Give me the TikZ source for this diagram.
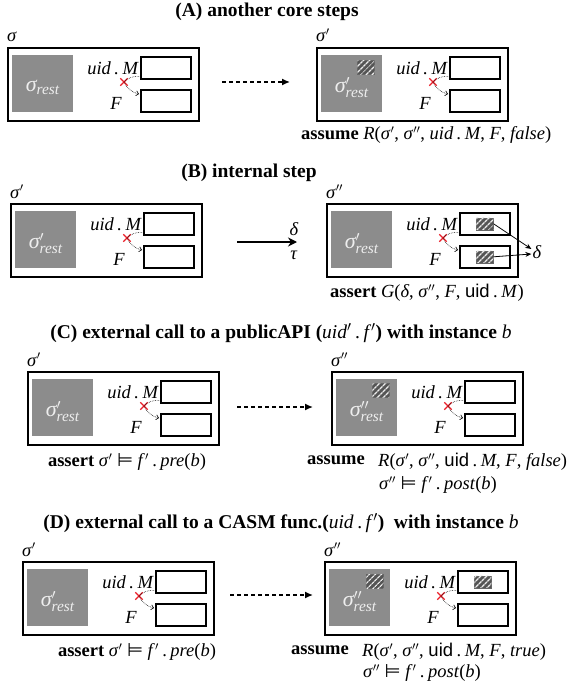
\documentclass[tikz,border=0pt]{standalone}
\usepackage{amsmath}
\usepackage{fontspec}
\setmainfont{Liberation Serif}
\setsansfont{Liberation Sans}
\newfontfamily\symfont{DejaVu Sans}
\usetikzlibrary{calc,arrows.meta,patterns.meta,shapes.misc}
\definecolor{graybg}{RGB}{140,140,140}
\definecolor{hatchbg}{RGB}{85,85,85}
\definecolor{restxt}{RGB}{238,238,238}
\definecolor{crossred}{RGB}{235,30,40}
\newcommand\sg{\textit{σ}}
\newcommand\dotsep{\kern3.5pt.\kern3.5pt}
\newcommand\uidM{\textit{uid\dotsep M}}
\newcommand\suidM{\textsf{uid}\dotsep\textit{M}}
\newcommand\mymodels{{\symfont ⊨}}
\tikzset{
  outerbox/.style={draw, line width=1.6pt, anchor=north west, minimum width=191pt, minimum height=73pt, inner sep=0pt},
  graybox/.style={fill=graybg, anchor=north west, minimum width=61pt, minimum height=57pt, inner sep=0pt},
  smallbox/.style={draw, line width=1.6pt, fill=white, anchor=north west, minimum width=50pt, minimum height=22pt, inner sep=0pt},
  lbl/.style={font=\fontsize{18.5}{20}\selectfont, inner sep=0pt},
  ttl/.style={font=\fontsize{19.5}{21}\selectfont\bfseries, inner sep=0pt},
  resttxt/.style={font=\fontsize{22}{24}\selectfont, text=restxt, inner sep=0pt},
  crossmk/.style={cross out, draw=crossred, line width=1.3pt, minimum size=6pt, inner sep=0pt},
  dotarr/.style={densely dotted, line width=0.6pt},
  dotarrtip/.style={densely dotted, line width=0.6pt, -{Straight Barb[length=2.5pt,width=5pt]}},
  dasharr/.style={line width=1.4pt, dash pattern=on 4pt off 3pt, -{Latex[length=8pt,width=7pt]}},
  solidarr/.style={line width=1.6pt, -{Stealth[length=9pt,width=9pt,inset=3pt]}},
  thinarr/.style={line width=0.8pt, -{Stealth[length=6pt,width=5pt]}},
  hatchsq/.style={anchor=north west, minimum width=17pt, minimum height=14pt, inner sep=0pt, draw=gray!80!black, line width=0.5pt, fill=hatchbg, postaction={pattern={Lines[angle=45,distance=4pt,line width=1.4pt]}, pattern color=white!92!black}},
  hatchsm/.style={hatchsq, anchor=center, minimum height=12pt},
}
\newcommand\statepanel[5]{%
  \node[outerbox] (#1) at (#2,#3) {};
  \node[graybox] (#1g) at ($(#1.north west)+(5,8)$) {};
  \node[resttxt] (#1r) at ($(#1g.center)+(0,4)$) {#5};
  \node[smallbox] (#1t) at ($(#1.north west)+(133,9)$) {};
  \node[smallbox] (#1b) at ($(#1.north west)+(133,42)$) {};
  \node[lbl, anchor=east] (#1u) at ($(#1t.west)+(-1,0)$) {\uidM};
  \node[lbl, anchor=east] (#1F) at ($(#1b.west)+(-18,3)$) {\textit{F}};
  \node[crossmk] (#1x) at ($(#1.north west)+(117,35)$) {};
  \draw[dotarr] ($(#1t.south west)+(-1,-3)$) to[bend right=25] (#1x.center);
  \draw[dotarrtip] (#1x.center) to[bend right=25] ($(#1b.north west)+(-1,5)$);
  \node[lbl, anchor=base west] (#1s) at ($(#1.north west)+(0,-5)$) {#4};
}
\begin{document}
\begin{tikzpicture}[x=1pt,y=-1pt]
\useasboundingbox (0,0) rectangle (568,690);
% ---------- (A)
\node[ttl] (tA) at (267,12) {(A) another core steps};
\statepanel{aL}{7}{47}{\sg}{$\sg_{\textit{rest}}$}
\statepanel{aR}{316}{47}{\sg$'$}{$\sg^{\prime}_{\textit{rest}}$}
\node[hatchsq] (aRh) at ($(aR.north west)+(41,13)$) {};
\coordinate (aA1) at (222,82);
\coordinate (aA2) at (290,82);
\draw[dasharr] (aA1) -- (aA2);
\node[lbl, anchor=west] (aAs) at (301,135) {\textbf{assume} \textit{R}(\sg$'$, \sg$''$, \uidM, \textit{F}, \textit{false})};
% ---------- (B)
\node[ttl] (tB) at (249,173) {(B) internal step};
\statepanel{bL}{10}{203}{\sg$'$}{$\sg^{\prime}_{\textit{rest}}$}
\statepanel{bR}{326}{203}{\sg$''$}{$\sg^{\prime}_{\textit{rest}}$}
\coordinate (bA1) at (237,242);
\coordinate (bA2) at (297,242);
\draw[solidarr] (bA1) -- (bA2);
\node[lbl] (bDel) at (294,229) {\textit{δ}};
\node[lbl] (bTau) at (294,255) {\textit{τ}};
\node[hatchsm] (bRht) at (bRt.center) {};
\node[hatchsm] (bRhb) at (bRb.center) {};
\node[lbl] (dlt) at (537,252) {\textit{δ}};
\draw[thinarr] (bRht.east) -- ($(dlt.west)+(-1,-3)$);
\draw[thinarr] (bRhb.east) -- ($(dlt.west)+(-1,2)$);
\node[lbl] (bAs) at (427,293) {\textbf{assert} \textit{G}(\textit{δ}, \sg$''$, \textit{F}, \suidM)};
% ---------- (C)
\node[ttl] (tC) at (281,333) {(C) external call to a publicAPI (\textmd{\textit{uid}$'$\dotsep\textit{f}$'$}) with instance \textmd{\textit{b}}};
\statepanel{cL}{27}{371}{\sg$'$}{$\sg^{\prime}_{\textit{rest}}$}
\statepanel{cR}{331}{371}{\sg$''$}{$\sg^{\prime\prime}_{\textit{rest}}$}
\node[hatchsq] (cRh) at ($(cR.north west)+(41,12)$) {};
\coordinate (cA1) at (237,407);
\coordinate (cA2) at (313,407);
\draw[dasharr] (cA1) -- (cA2);
\node[lbl] (cAs) at (127,462) {\textbf{assert} \sg$'$ \mymodels{} \textit{f}$'$\dotsep\textit{pre}(\textit{b})};
\node[lbl, anchor=west] (cAm) at (307,460) {\textbf{assume}};
\node[lbl, anchor=west] (cF1) at (378,462) {\textit{R}(\sg$'$, \sg$''$, \suidM, \textit{F}, \textit{false})};
\node[lbl, anchor=west] (cF2) at (379,485) {\sg$''$ \mymodels{} \textit{f}$'$\dotsep\textit{post}(\textit{b})};
% ---------- (D)
\node[ttl] (tD) at (281,523) {(D) external call to a CASM func.(\textmd{\textit{uid}\dotsep\textit{f}$'$})\ \ with instance \textmd{\textit{b}}};
\statepanel{dL}{22}{561}{\sg$'$}{$\sg^{\prime}_{\textit{rest}}$}
\statepanel{dR}{324}{561}{\sg$''$}{$\sg^{\prime\prime}_{\textit{rest}}$}
\node[hatchsq] (dRh) at ($(dR.north west)+(42,13)$) {};
\node[hatchsm] (dRht) at (dRt.center) {};
\coordinate (dA1) at (230,595);
\coordinate (dA2) at (313,595);
\draw[dasharr] (dA1) -- (dA2);
\node[lbl] (dAs) at (137,652) {\textbf{assert} \sg$'$ \mymodels{} \textit{f}$'$\dotsep\textit{pre}(\textit{b})};
\node[lbl, anchor=west] (dAm) at (291,650) {\textbf{assume}};
\node[lbl, anchor=west] (dF1) at (362,652) {\textit{R}(\sg$'$, \sg$''$, \suidM, \textit{F}, \textit{true})};
\node[lbl, anchor=west] (dF2) at (363,673) {\sg$''$ \mymodels{} \textit{f}$'$\dotsep\textit{post}(\textit{b})};
\end{tikzpicture}
\end{document}
